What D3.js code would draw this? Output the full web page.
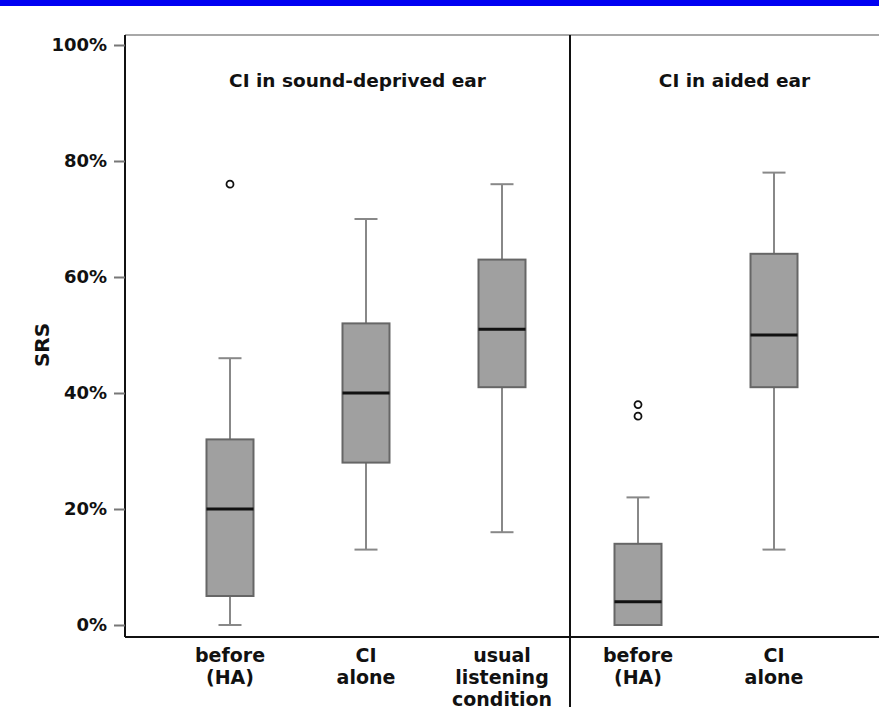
<!DOCTYPE html>
<html>
<head>
<meta charset="utf-8">
<script src="https://cdn.jsdelivr.net/npm/d3@7"></script>
<style>
  body { margin: 0; background: #fff; }
  text { font-family: "DejaVu Sans", sans-serif; font-weight: bold; fill: #111; }
</style>
</head>
<body>
<script>
// data (percent SRS)
var categories = ["before (HA)", "CI alone", "usual listening condition", "before (HA) ", "CI alone "];
var labelLines = [["before", "(HA)"], ["CI", "alone"], ["usual", "listening", "condition"], ["before", "(HA)"], ["CI", "alone"]];
var whiskerLow = [0, 13, 16, 0, 13];
var q1 = [5, 28, 41, 0, 41];
var median = [20, 40, 51, 4, 50];
var q3 = [32, 52, 63, 14, 64];
var whiskerHigh = [46, 70, 76, 22, 78];
var outliers = [[76], [], [], [36, 38], []];
var panelTitles = ["CI in sound-deprived ear", "CI in aided ear"];
var yTicks = [0, 20, 40, 60, 80, 100];

var width = 879, height = 711;
var plotLeft = 125, plotRight = 879, plotTop = 35, plotBottom = 637;

var svg = d3.select("body")
            .append("svg")
            .attr("width", width)
            .attr("height", height);

// blue strip along the top
svg.append("rect")
   .attr("x", 0).attr("y", 0)
   .attr("width", width).attr("height", 6)
   .attr("fill", "#0000f2");

var x = d3.scalePoint()
          .domain(categories)
          .range([plotLeft, plotRight])
          .padding(0.772);

var y = d3.scaleLinear()
          .domain([0, 100])
          .range([625, 45]);

var boxW = 47, capW = 23;

// frame
svg.append("line").attr("x1", plotLeft).attr("x2", plotRight).attr("y1", plotTop).attr("y2", plotTop)
   .attr("stroke", "#a8a8a8").attr("stroke-width", 2);
svg.append("line").attr("x1", plotLeft).attr("x2", plotLeft).attr("y1", plotTop).attr("y2", plotBottom)
   .attr("stroke", "#111").attr("stroke-width", 2);
svg.append("line").attr("x1", plotLeft).attr("x2", plotRight).attr("y1", plotBottom).attr("y2", plotBottom)
   .attr("stroke", "#111").attr("stroke-width", 2);

// divider between the two panels
var divX = (x(categories[2]) + x(categories[3])) / 2;
svg.append("line").attr("x1", divX).attr("x2", divX).attr("y1", plotTop).attr("y2", 707)
   .attr("stroke", "#111").attr("stroke-width", 2);

// y axis
var yAxis = d3.axisLeft(y)
              .tickValues(yTicks)
              .tickSize(11)
              .tickPadding(7)
              .tickFormat(function(d) { return d + "%"; });

var gy = svg.append("g")
            .attr("transform", "translate(" + plotLeft + ",0)")
            .call(yAxis);
gy.select(".domain").remove();
gy.selectAll(".tick line").attr("stroke", "#777").attr("stroke-width", 2);
gy.selectAll(".tick text")
  .attr("font-size", "18px")
  .attr("font-family", "DejaVu Sans, sans-serif")
  .attr("font-weight", "bold")
  .attr("fill", "#111");

svg.append("text")
   .attr("transform", "translate(49,345) rotate(-90)")
   .attr("text-anchor", "middle")
   .attr("font-size", "20px")
   .text("SRS");

// panel titles
var panelCenters = [(plotLeft + divX) / 2 + 10, (divX + plotRight) / 2 + 10];
svg.selectAll(".ptitle")
   .data(panelTitles)
   .enter()
   .append("text")
   .attr("class", "ptitle")
   .attr("x", function(d, i) { return panelCenters[i]; })
   .attr("y", 87)
   .attr("text-anchor", "middle")
   .attr("font-size", "18.5px")
   .text(function(d) { return d; });

// boxes
var g = svg.selectAll(".box")
           .data(categories)
           .enter()
           .append("g")
           .attr("class", "box")
           .attr("transform", function(d) { return "translate(" + x(d) + ",0)"; });

g.append("line")
 .attr("x1", 0).attr("x2", 0)
 .attr("y1", function(d, i) { return y(whiskerHigh[i]); })
 .attr("y2", function(d, i) { return y(q3[i]); })
 .attr("stroke", "#888").attr("stroke-width", 2);
g.append("line")
 .attr("x1", 0).attr("x2", 0)
 .attr("y1", function(d, i) { return y(q1[i]); })
 .attr("y2", function(d, i) { return y(whiskerLow[i]); })
 .attr("stroke", "#888").attr("stroke-width", 2);
g.append("line")
 .attr("x1", -capW / 2).attr("x2", capW / 2)
 .attr("y1", function(d, i) { return y(whiskerHigh[i]); })
 .attr("y2", function(d, i) { return y(whiskerHigh[i]); })
 .attr("stroke", "#888").attr("stroke-width", 2);
g.append("line")
 .attr("x1", -capW / 2).attr("x2", capW / 2)
 .attr("y1", function(d, i) { return y(whiskerLow[i]); })
 .attr("y2", function(d, i) { return y(whiskerLow[i]); })
 .attr("stroke", "#888").attr("stroke-width", 2)
 .attr("display", function(d, i) { return whiskerLow[i] === q1[i] ? "none" : null; });

g.append("rect")
 .attr("x", -boxW / 2)
 .attr("width", boxW)
 .attr("y", function(d, i) { return y(q3[i]); })
 .attr("height", function(d, i) { return y(q1[i]) - y(q3[i]); })
 .attr("fill", "#a0a0a0")
 .attr("stroke", "#666")
 .attr("stroke-width", 2);

g.append("line")
 .attr("x1", -boxW / 2).attr("x2", boxW / 2)
 .attr("y1", function(d, i) { return y(median[i]); })
 .attr("y2", function(d, i) { return y(median[i]); })
 .attr("stroke", "#111").attr("stroke-width", 3);

g.selectAll("circle")
 .data(function(d, i) { return outliers[i]; })
 .enter()
 .append("circle")
 .attr("cx", 0)
 .attr("cy", function(v) { return y(v); })
 .attr("r", 3.5)
 .attr("fill", "#fff")
 .attr("stroke", "#111")
 .attr("stroke-width", 1.8);

// category labels
g.append("text")
 .attr("text-anchor", "middle")
 .attr("font-size", "19px")
 .selectAll("tspan")
 .data(function(d, i) { return labelLines[i]; })
 .enter()
 .append("tspan")
 .attr("x", 0)
 .attr("y", function(t, j) { return 662 + j * 22; })
 .text(function(t) { return t; });
</script>
</body>
</html>
